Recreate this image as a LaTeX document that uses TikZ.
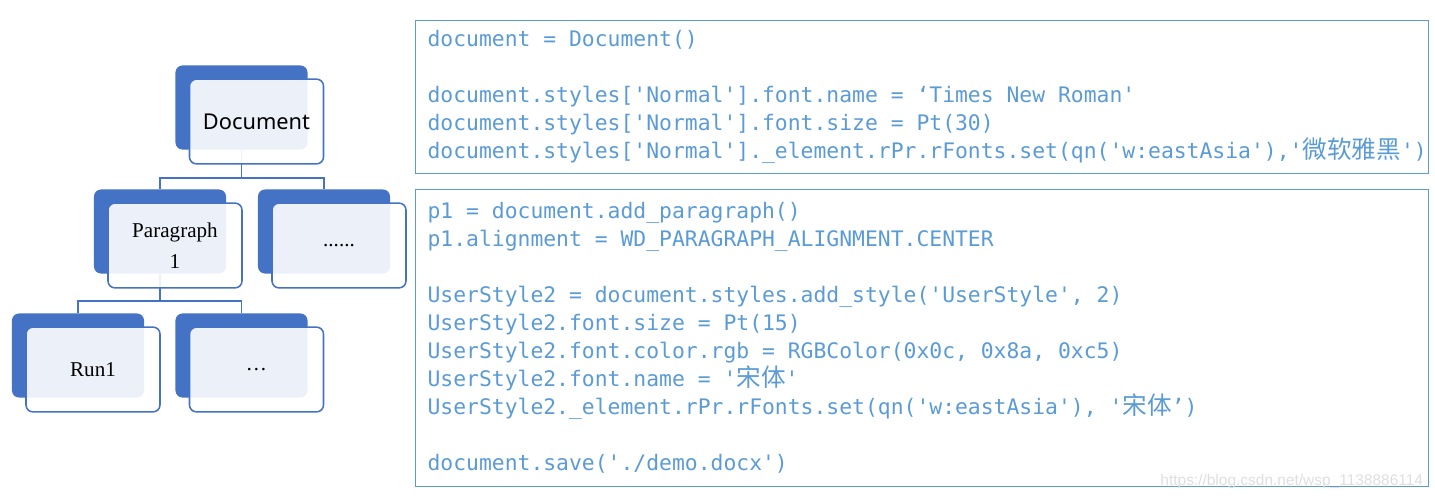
\documentclass[tikz,border=0pt]{standalone}
\usepackage{fontspec}
\setmainfont{Liberation Serif}
\setsansfont{Liberation Sans}
\setmonofont{DejaVu Sans Mono}
\newfontfamily\docsans{Noto Sans}
\newfontfamily\cjk{Noto Sans CJK SC}
\usetikzlibrary{positioning}
\definecolor{wordBlue}{RGB}{68, 114, 196}
\definecolor{codeBlue}{RGB}{91, 155, 213}
\definecolor{markGray}{RGB}{222, 222, 222}
\newcommand\fullspaces{\spaceskip=0.602em\relax\xspaceskip=0.602em\relax}
\newcommand\han[1]{{\cjk\fontsize{17.5}{19.9}\selectfont #1}}

\begin{document}
\begin{tikzpicture}[
  x=0.025cm, y=-0.025cm,
  back/.style={fill=wordBlue, rounded corners=5pt, minimum width=3.3cm,
               minimum height=2.1cm, inner sep=0pt},
  front/.style={draw=wordBlue, line width=1.1pt, fill=white, fill opacity=0.9,
                text opacity=1, rounded corners=5pt, minimum width=3.35cm,
                minimum height=2.12cm, align=center, font=\fontsize{15}{22}\selectfont},
  link/.style={draw=wordBlue, line width=1.1pt},
  codebox/.style={draw=codeBlue, line width=0.8pt, anchor=north west,
                  minimum width=25.325cm, text width=24.725cm, inner xsep=0.3cm,
                  align=left, text=codeBlue, font=\ttfamily\fontsize{15.2}{19.9}\selectfont}
]
\useasboundingbox (0,0) rectangle (1435,499);

% tree: back plates first
\node[back] (docback) at (241.5,107.5) {};
\node[back] (paraback) at (160,231.5) {};
\node[back] (dotsback) at (324,231.5) {};
\node[back] (runback) at (78,355.5) {};
\node[back] (ellback) at (241.5,355.5) {};

\draw[link] (docback.south) -- ++(0,28) -| (paraback.north);
\draw[link] (docback.south) ++(0,28) -| (dotsback.north);
\draw[link] (paraback.south) -- ++(0,27) -| (runback.north);
\draw[link] (paraback.south) ++(0,27) -| (ellback.north);

% front cards
\node[front, font=\docsans\fontsize{15.5}{20}\selectfont] (doc) at ([shift={(15,14)}]docback.center) {Document};
\node[front] (para) at ([shift={(15,14)}]paraback.center) {Paragraph\\1};
\node[front] (dots) at ([shift={(15,14)}]dotsback.center) {......};
\node[front] (run) at ([shift={(15,14)}]runback.center) {Run1};
\node[front] (ell) at ([shift={(15,14)}]ellback.center) {\ldots};

% code
\node[codebox, minimum height=3.825cm] (setup) at (415,20) {\fullspaces
document = Document()\\[19.9pt]
document.styles['Normal'].font.name = ‘Times New Roman'\\
document.styles['Normal'].font.size = Pt(30)\\
document.styles['Normal'].\_element.rPr.rFonts.set(qn('w:eastAsia'),'\han{微软雅黑}')};

\node[codebox, minimum height=7.425cm] (usage) at (415,189) {\fullspaces
p1 = document.add\_paragraph()\\
p1.alignment = WD\_PARAGRAPH\_ALIGNMENT.CENTER\\[19.9pt]
UserStyle2 = document.styles.add\_style('UserStyle', 2)\\
UserStyle2.font.size = Pt(15)\\
UserStyle2.font.color.rgb = RGBColor(0x0c, 0x8a, 0xc5)\\
UserStyle2.font.name = '\han{宋体}'\\
UserStyle2.\_element.rPr.rFonts.set(qn('w:eastAsia'), '\han{宋体}’)\\[19.9pt]
document.save('./demo.docx')};

\node[text=markGray, font=\sffamily\fontsize{11}{12}\selectfont, anchor=east] (mark) at (1428,481) {https://blog.csdn.net/wsp\_1138886114};
\end{tikzpicture}
\end{document}
